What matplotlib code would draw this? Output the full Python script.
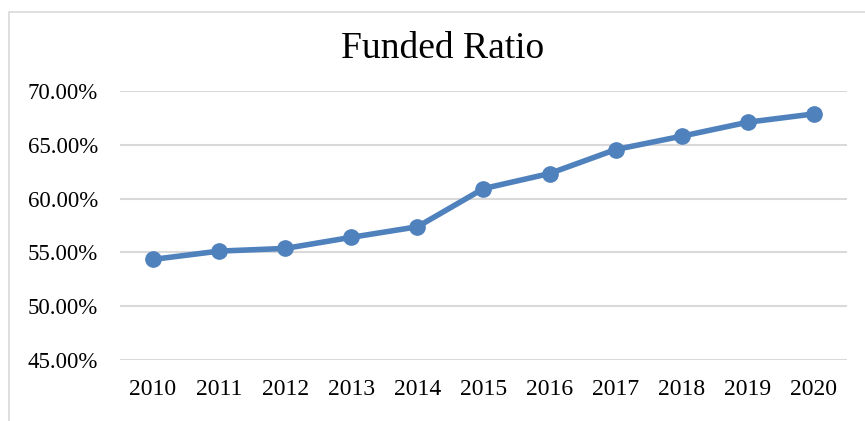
import matplotlib
matplotlib.use("Agg")
import matplotlib.pyplot as plt
from matplotlib.patches import Rectangle
from matplotlib.ticker import FuncFormatter

years = ["2010", "2011", "2012", "2013", "2014", "2015", "2016", "2017", "2018", "2019", "2020"]
funded_ratio = [54.35, 55.12, 55.37, 56.40, 57.38, 60.93, 62.33, 64.56, 65.80, 67.10, 67.87]
y_ticks = [45, 50, 55, 60, 65, 70]

W, H = 865, 421
fig = plt.figure(figsize=(W / 100, H / 100), dpi=100)
fig.patch.set_facecolor("white")

serif = ["Liberation Serif", "DejaVu Serif"]

# outer chart border
fig.add_artist(Rectangle((9 / W, -0.05), 1.2, 1 - 12 / H + 0.05, transform=fig.transFigure,
                         fill=False, edgecolor="#D9D9D9", linewidth=1.2))

ax = fig.add_axes([120 / W, 61 / H, 727 / W, 269 / H])
x = list(range(len(years)))
ax.plot(x, funded_ratio, color="#4F81BD", linewidth=4.0, marker="o", markersize=11,
        solid_capstyle="round", zorder=3)

ax.set_xlim(-0.5, len(years) - 0.5)
ax.set_ylim(45, 70)
ax.set_yticks(y_ticks)
ax.yaxis.set_major_formatter(FuncFormatter(lambda v, p: f"{v:.2f}%"))
ax.set_xticks(x)
ax.set_xticklabels(years)

for s in ["top", "right", "left", "bottom"]:
    ax.spines[s].set_visible(False)
ax.grid(axis="y", color="#D9D9D9", linewidth=1.5, zorder=0)
ax.set_axisbelow(True)
ax.tick_params(axis="both", length=0)
ax.tick_params(axis="y", pad=16)
ax.tick_params(axis="x", pad=14)
for lab in ax.get_yticklabels():
    lab.set_family(serif)
    lab.set_fontsize(16.5)
    lab.set_color("#000000")
for lab in ax.get_xticklabels():
    lab.set_family(serif)
    lab.set_fontsize(17)
    lab.set_color("#000000")

fig.text(443 / W, 1 - 49 / H, "Funded Ratio", ha="center", va="center",
         family=serif, fontsize=27, color="#000000")

fig.savefig("out.png", dpi=100)
